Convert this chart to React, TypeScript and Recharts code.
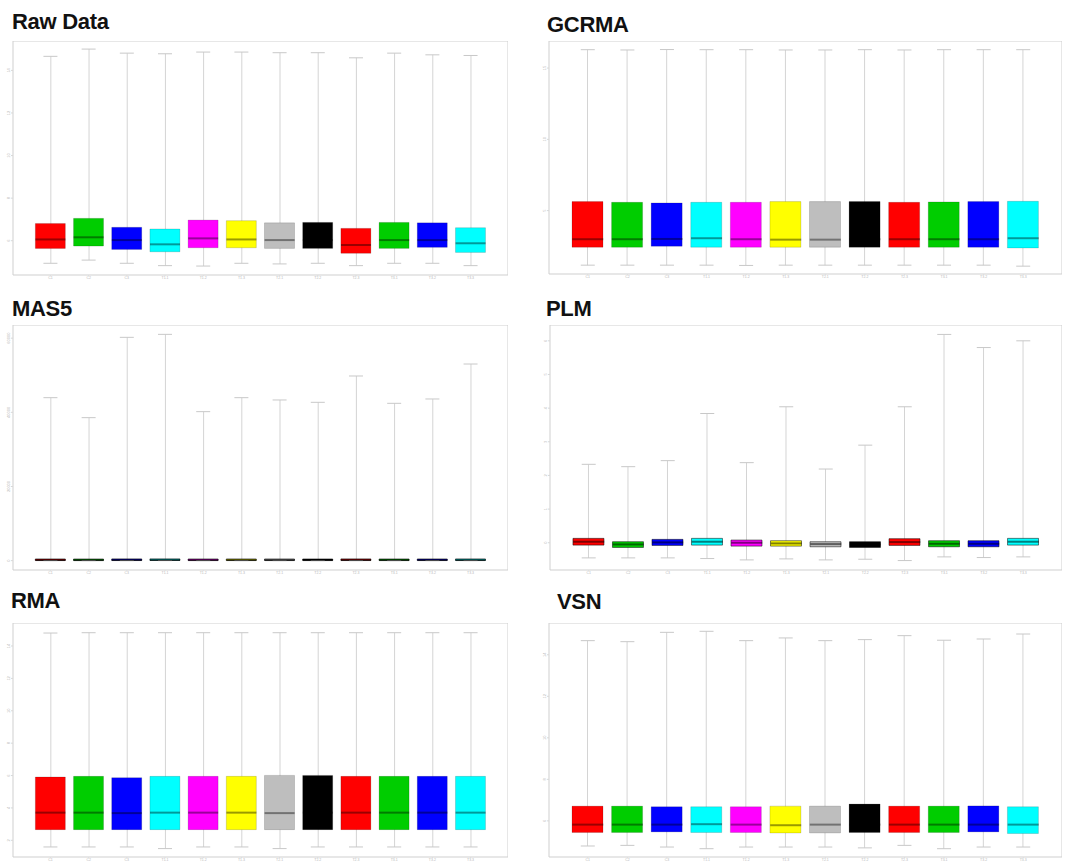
import React from "react";
import { ComposedChart, Bar, Scatter, XAxis, YAxis, Cell, ReferenceArea } from "recharts";

// ---------- shared ----------
const sampleLabels = ["C1", "C2", "C3", "T1.1", "T1.2", "T1.3", "T2.1", "T2.2", "T2.3", "T3.1", "T3.2", "T3.3"];
const samplePositions = [1, 2, 3, 4, 5, 6, 7, 8, 9, 10, 11, 12];
const boxColors = ["#FF0000", "#00CD00", "#0000FF", "#00FFFF", "#FF00FF", "#FFFF00", "#BEBEBE", "#000000", "#FF0000", "#00CD00", "#0000FF", "#00FFFF"];
const xDomain = [0.02, 12.98];

// ---------- Raw Data ----------
const rawMax = [14.66, 15.0, 14.81, 14.78, 14.86, 14.86, 14.83, 14.83, 14.59, 14.81, 14.73, 14.7];
const rawQ3 = [6.81, 7.05, 6.63, 6.55, 6.97, 6.94, 6.84, 6.86, 6.58, 6.86, 6.84, 6.61];
const rawMed = [6.06, 6.16, 6.03, 5.83, 6.11, 6.06, 6.03, 6.03, 5.8, 6.03, 6.03, 5.88];
const rawQ1 = [5.64, 5.75, 5.59, 5.48, 5.67, 5.67, 5.64, 5.64, 5.41, 5.64, 5.69, 5.45];
const rawMin = [4.94, 5.09, 4.94, 4.83, 4.81, 4.94, 4.91, 4.94, 4.83, 4.94, 4.94, 4.83];
const rawTicks = [6, 8, 10, 12, 14];
const rawDomain = [4.39, 15.38];

// ---------- GCRMA ----------
const gcMax = [16.29, 16.27, 16.3, 16.29, 16.29, 16.27, 16.27, 16.29, 16.27, 16.29, 16.29, 16.29];
const gcQ3 = [5.63, 5.58, 5.54, 5.58, 5.58, 5.63, 5.63, 5.63, 5.58, 5.61, 5.63, 5.65];
const gcMed = [2.99, 2.99, 3.01, 3.06, 2.99, 2.96, 2.96, 2.99, 2.99, 2.99, 2.99, 3.06];
const gcQ1 = [2.43, 2.43, 2.5, 2.43, 2.43, 2.43, 2.43, 2.43, 2.43, 2.43, 2.43, 2.38];
const gcMin = [1.17, 1.17, 1.17, 1.17, 1.15, 1.17, 1.17, 1.17, 1.17, 1.17, 1.17, 1.1];
const gcTicks = [5, 10, 15];
const gcDomain = [0.55, 16.9];

// ---------- MAS5 ----------
const m5Max = [43950, 38560, 60225, 61030, 40180, 43950, 43330, 42700, 49800, 42430, 43600, 53030];
const m5Q3 = [450, 430, 460, 470, 440, 450, 445, 440, 460, 440, 450, 455];
const m5Med = [160, 150, 165, 170, 155, 160, 158, 155, 165, 155, 160, 162];
const m5Q1 = [45, 40, 48, 50, 42, 45, 44, 42, 48, 42, 45, 46];
const m5Min = [2, 2, 2, 2, 2, 2, 2, 2, 2, 2, 2, 2];
const m5Ticks = [0, 20000, 40000, 60000];
const m5Domain = [-2520, 63550];

// ---------- PLM ----------
const plmMax = [2.33, 2.26, 2.44, 3.84, 2.38, 4.04, 2.19, 2.9, 4.04, 6.19, 5.8, 6.0];
const plmQ3 = [0.13, 0.03, 0.1, 0.13, 0.08, 0.06, 0.03, 0.03, 0.12, 0.06, 0.06, 0.13];
const plmMed = [0.03, -0.05, 0.01, 0.03, 0.0, -0.02, -0.04, -0.05, 0.02, -0.03, -0.03, 0.03];
const plmQ1 = [-0.07, -0.14, -0.08, -0.07, -0.1, -0.1, -0.12, -0.14, -0.08, -0.12, -0.12, -0.07];
const plmMin = [-0.45, -0.45, -0.45, -0.47, -0.51, -0.48, -0.51, -0.49, -0.53, -0.42, -0.44, -0.42];
const plmTicks = [0, 1, 2, 3, 4, 5, 6];
const plmDomain = [-0.81, 6.47];

// ---------- RMA ----------
const rmaMax = [14.8, 14.82, 14.82, 14.82, 14.82, 14.82, 14.82, 14.82, 14.82, 14.82, 14.82, 14.82];
const rmaQ3 = [5.91, 5.95, 5.87, 5.95, 5.95, 5.95, 6.01, 6.01, 5.95, 5.95, 5.95, 5.95];
const rmaMed = [3.71, 3.71, 3.68, 3.71, 3.71, 3.71, 3.68, 3.71, 3.71, 3.71, 3.71, 3.71];
const rmaQ1 = [2.66, 2.66, 2.66, 2.66, 2.66, 2.66, 2.66, 2.66, 2.66, 2.66, 2.66, 2.66];
const rmaMin = [1.59, 1.59, 1.59, 1.49, 1.59, 1.59, 1.49, 1.59, 1.59, 1.59, 1.59, 1.59];
const rmaTicks = [2, 4, 6, 8, 10, 12, 14];
const rmaDomain = [0.97, 15.42];

// ---------- VSN ----------
const vsnMax = [14.68, 14.63, 15.08, 15.13, 14.68, 14.81, 14.68, 14.73, 14.92, 14.7, 14.76, 15.0];
const vsnQ3 = [6.71, 6.71, 6.68, 6.68, 6.68, 6.71, 6.71, 6.81, 6.71, 6.71, 6.72, 6.68];
const vsnMed = [5.82, 5.82, 5.82, 5.84, 5.82, 5.79, 5.82, 5.82, 5.82, 5.82, 5.82, 5.82];
const vsnQ1 = [5.44, 5.44, 5.47, 5.44, 5.44, 5.42, 5.42, 5.44, 5.44, 5.44, 5.47, 5.39];
const vsnMin = [4.79, 4.82, 4.74, 4.66, 4.74, 4.74, 4.74, 4.7, 4.82, 4.66, 4.74, 4.74];
const vsnTicks = [6, 8, 10, 12, 14];
const vsnDomain = [4.26, 15.53];

function buildRows(mins: number[], q1s: number[], meds: number[], q3s: number[], maxs: number[]) {
  return samplePositions.map((x, i) => ({
    x,
    name: sampleLabels[i],
    whisker: [mins[i], maxs[i]],
    box: [q1s[i], q3s[i]],
    min: mins[i],
    med: meds[i],
    max: maxs[i],
  }));
}

const hLine = (w: number, stroke: string, sw: number, op: number) => (props: any) => {
  const { cx, cy } = props;
  if (cx == null || cy == null || isNaN(cx) || isNaN(cy)) return <g />;
  return <line x1={cx - w / 2} x2={cx + w / 2} y1={cy} y2={cy} stroke={stroke} strokeWidth={sw} strokeOpacity={op} />;
};

const AXW = 12;
const AXH = 6;
const FONT = "'Liberation Sans', Arial, sans-serif";

const YTick = (props: any) => {
  const { x, y, payload } = props;
  const tx = x + 1;
  return (
    <text
      x={tx}
      y={y}
      transform={`rotate(-90 ${tx} ${y})`}
      textAnchor="middle"
      fontSize={4}
      fill="#b8b8b8"
      fontFamily={FONT}
    >
      {payload.value}
    </text>
  );
};

const XTick = (props: any) => {
  const { x, y, payload } = props;
  return (
    <text x={x} y={y + 3} textAnchor="middle" fontSize={3.5} fill="#b8b8b8" fontFamily={FONT}>
      {sampleLabels[payload.value - 1] ?? ""}
    </text>
  );
};

type PanelProps = {
  title: string;
  titleLeft: number;
  titleTop: number;
  left: number;
  top: number;
  width: number;
  height: number;
  rows: any[];
  yDomain: number[];
  yTicks: number[];
  boxWidth: number;
  boxStrokeOpacity: number;
  medOpacity: number;
};

function Panel(p: PanelProps) {
  return (
    <>
      <div
        style={{
          position: "absolute",
          left: p.titleLeft,
          top: p.titleTop,
          fontFamily: FONT,
          fontWeight: "bold",
          fontSize: 22,
          lineHeight: "22px",
          color: "#111",
          whiteSpace: "nowrap",
          letterSpacing: -0.3,
        }}
      >
        {p.title}
      </div>
      <div style={{ position: "absolute", left: p.left - AXW, top: p.top }}>
        <ComposedChart
          width={p.width + AXW}
          height={p.height + AXH}
          data={p.rows}
          margin={{ top: 0, right: 0, bottom: 0, left: 0 }}
        >
          <XAxis
            xAxisId="b"
            dataKey="x"
            type="number"
            domain={xDomain}
            allowDataOverflow
            ticks={samplePositions}
            axisLine={false}
            tickLine={{ stroke: "#dddddd" }}
            tickSize={1}
            tickMargin={0}
            height={AXH}
            tick={<XTick />}
            interval={0}
          />
          <XAxis xAxisId="w" dataKey="x" type="number" domain={xDomain} allowDataOverflow hide />
          <YAxis
            type="number"
            domain={p.yDomain}
            allowDataOverflow
            ticks={p.yTicks}
            axisLine={false}
            tickLine={{ stroke: "#d8d8d8" }}
            tickSize={2}
            tickMargin={2}
            width={AXW}
            tick={<YTick />}
            interval={0}
          />
          <ReferenceArea
            xAxisId="b"
            x1={xDomain[0]}
            x2={xDomain[1]}
            y1={p.yDomain[0]}
            y2={p.yDomain[1]}
            fill="#ffffff"
            fillOpacity={0}
            stroke="#cfcfcf"
            strokeWidth={1}
            ifOverflow="visible"
          />
          <Bar xAxisId="w" dataKey="whisker" barSize={1} fill="#d4d4d4" isAnimationActive={false} />
          <Scatter xAxisId="b" dataKey="max" shape={hLine(14, "#c8c8c8", 1, 1)} isAnimationActive={false} />
          <Scatter xAxisId="b" dataKey="min" shape={hLine(14, "#c8c8c8", 1, 1)} isAnimationActive={false} />
          <Bar
            xAxisId="b"
            dataKey="box"
            barSize={p.boxWidth}
            stroke="#000000"
            strokeOpacity={p.boxStrokeOpacity}
            strokeWidth={1}
            isAnimationActive={false}
          >
            {p.rows.map((_, i) => (
              <Cell key={i} fill={boxColors[i]} />
            ))}
          </Bar>
          <Scatter xAxisId="b" dataKey="med" shape={hLine(p.boxWidth, "#000000", 2, p.medOpacity)} isAnimationActive={false} />
        </ComposedChart>
      </div>
    </>
  );
}

export default function App() {
  return (
    <div style={{ position: "absolute", left: 0, top: 0, width: 1073, height: 862, background: "#ffffff", overflow: "hidden" }}>
      <Panel
        title="Raw Data"
        titleLeft={12}
        titleTop={11}
        left={13}
        top={41}
        width={495}
        height={234}
        rows={buildRows(rawMin, rawQ1, rawMed, rawQ3, rawMax)}
        yDomain={rawDomain}
        yTicks={rawTicks}
        boxWidth={30}
        boxStrokeOpacity={0.15}
        medOpacity={0.4}
      />
      <Panel
        title="GCRMA"
        titleLeft={547}
        titleTop={14}
        left={549}
        top={41}
        width={513}
        height={233}
        rows={buildRows(gcMin, gcQ1, gcMed, gcQ3, gcMax)}
        yDomain={gcDomain}
        yTicks={gcTicks}
        boxWidth={31}
        boxStrokeOpacity={0.15}
        medOpacity={0.4}
      />
      <Panel
        title="MAS5"
        titleLeft={12}
        titleTop={298}
        left={13}
        top={325}
        width={495}
        height={245}
        rows={buildRows(m5Min, m5Q1, m5Med, m5Q3, m5Max)}
        yDomain={m5Domain}
        yTicks={m5Ticks}
        boxWidth={30}
        boxStrokeOpacity={0.6}
        medOpacity={0.6}
      />
      <Panel
        title="PLM"
        titleLeft={546}
        titleTop={298}
        left={550}
        top={325}
        width={512}
        height={245}
        rows={buildRows(plmMin, plmQ1, plmMed, plmQ3, plmMax)}
        yDomain={plmDomain}
        yTicks={plmTicks}
        boxWidth={31}
        boxStrokeOpacity={0.5}
        medOpacity={0.5}
      />
      <Panel
        title="RMA"
        titleLeft={11}
        titleTop={590}
        left={13}
        top={623}
        width={495}
        height={234}
        rows={buildRows(rmaMin, rmaQ1, rmaMed, rmaQ3, rmaMax)}
        yDomain={rmaDomain}
        yTicks={rmaTicks}
        boxWidth={30}
        boxStrokeOpacity={0.15}
        medOpacity={0.4}
      />
      <Panel
        title="VSN"
        titleLeft={557}
        titleTop={591}
        left={549}
        top={623}
        width={513}
        height={234}
        rows={buildRows(vsnMin, vsnQ1, vsnMed, vsnQ3, vsnMax)}
        yDomain={vsnDomain}
        yTicks={vsnTicks}
        boxWidth={31}
        boxStrokeOpacity={0.15}
        medOpacity={0.4}
      />
    </div>
  );
}
